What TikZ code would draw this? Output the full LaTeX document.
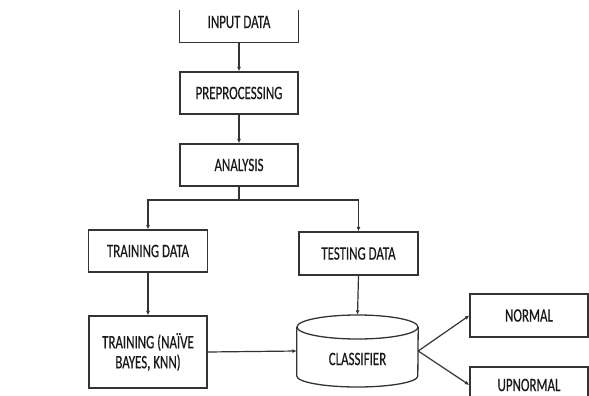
\documentclass[tikz,border=0pt]{standalone}
\usepackage{fontspec}
\setmainfont{Carlito}[FakeStretch=0.68, FakeBold=0.4]
\usetikzlibrary{arrows.meta}
\begin{document}
\begin{tikzpicture}[x=1pt,y=-1pt,
  txt/.style={font=\fontsize{19}{21}\selectfont, text=black!90, align=center},
  stepbox/.style={draw=black!80, line width=1.3pt, txt, inner sep=0pt, minimum width=118pt, minimum height=42pt},
  arr/.style={draw=black!80, line width=1.2pt, -{Latex[length=4.5pt,width=4pt]}},
  plain/.style={draw=black!80, line width=1.2pt}]
\useasboundingbox (0,0) rectangle (589,396);

% top block: its upper edge lies outside the page
\node[minimum width=118pt, minimum height=32pt, inner sep=0pt] (inp) at (239,26) {};
\draw[plain, line width=1.3pt] (inp.north west) -- (inp.south west) -- (inp.south east) -- (inp.north east);
\node[txt] (inptext) at (239,22) {INPUT DATA};

\node[stepbox] (pre) at (239,93) {PREPROCESSING};
\node[stepbox] (ana) at (239,165) {ANALYSIS};
\node[stepbox, minimum width=119pt] (trd) at (148,251) {TRAINING DATA};
\node[stepbox, minimum width=119pt, minimum height=43pt] (tsd) at (358.5,253.5) {TESTING DATA};
\node[stepbox, minimum height=72pt] (trn) at (148,352) {TRAINING (NAÏVE\\[-1pt]BAYES, KNN)};
\node[stepbox, minimum height=43pt] (nor) at (529,315.5) {NORMAL};
\node[stepbox, minimum height=36pt] (upn) at (529,385) {UPNORMAL};

% classifier drawn as a cylinder
\node[minimum width=121pt, minimum height=72pt, inner sep=0pt] (cls) at (357.5,351) {};
\draw[plain, line width=1.3pt]
  (cls.west |- 0,327) -- (cls.west |- 0,376)
  arc[start angle=180, end angle=360, x radius=60.5pt, y radius=11pt]
  -- (cls.east |- 0,327);
\draw[plain, line width=1.3pt] (357.5,327) ellipse [x radius=60.5pt, y radius=12pt];
\node[txt] (clstext) at (357.5,359) {CLASSIFIER};

% connectors
\draw[arr] (inp.south) -- (pre.north);
\draw[arr] (pre.south) -- (ana.north);
\coordinate (split) at (239,200);
\draw[plain] (ana.south) -- (split);
\draw[arr] (split) -| (trd.north);
\draw[arr] (split) -| (tsd.north);
\draw[arr] (trd.south) -- (trn.north);
\draw[arr] (tsd.south) -- (cls.north);
\draw[arr] (trn.east) -- (cls.west);
\draw[arr] (cls.east) -- (nor.west);
\draw[arr] (cls.east) -- (upn.west);
\end{tikzpicture}
\end{document}
